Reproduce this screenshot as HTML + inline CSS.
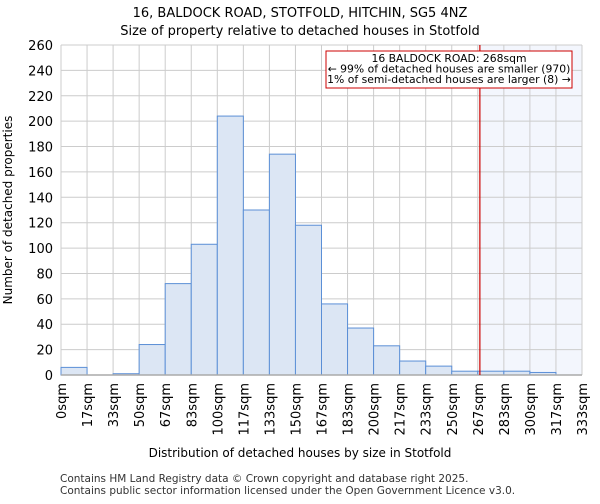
<!DOCTYPE html>
<html><head><meta charset="utf-8"><style>
body{margin:0;background:#fff;font-family:"DejaVu Sans","Liberation Sans",sans-serif;}
</style></head><body>
<svg width="600" height="500" xmlns="http://www.w3.org/2000/svg" id="chart" font-family="DejaVu Sans, Liberation Sans, sans-serif">
<text x="300" y="17" text-anchor="middle" font-size="13">16, BALDOCK ROAD, STOTFOLD, HITCHIN, SG5 4NZ</text>
<text x="300" y="35" text-anchor="middle" font-size="13">Size of property relative to detached houses in Stotfold</text>
<g id="plot"></g>
<text x="300" y="457" text-anchor="middle" font-size="12">Distribution of detached houses by size in Stotfold</text>
<text transform="translate(12,210) rotate(-90)" text-anchor="middle" font-size="12">Number of detached properties</text>
<text x="60" y="482" font-size="10.5" fill="#333">Contains HM Land Registry data © Crown copyright and database right 2025.</text>
<text x="60" y="494" font-size="10.5" fill="#333">Contains public sector information licensed under the Open Government Licence v3.0.</text>
</svg>
<script>
const categories=["0sqm","17sqm","33sqm","50sqm","67sqm","83sqm","100sqm","117sqm","133sqm","150sqm","167sqm","183sqm","200sqm","217sqm","233sqm","250sqm","267sqm","283sqm","300sqm","317sqm","333sqm"];
const counts=[6,0,1,24,72,103,204,130,174,118,56,37,23,11,7,3,3,3,2,0];
const yTicks=[0,20,40,60,80,100,120,140,160,180,200,220,240,260];
const binStart=0, binWidth=16.667;
const markerValue=268;
const NS="http://www.w3.org/2000/svg";
const L=61,R=582,T=45,B=375,yMax=260;
const nb=counts.length;
const xs=v=>L+(v-binStart)/(binWidth*nb)*(R-L);
const xi=i=>L+i*(R-L)/nb;
const ys=v=>B-v/yMax*(B-T);
const g=document.getElementById('plot');
function mk(t,a){const e=document.createElementNS(NS,t);for(const k in a)e.setAttribute(k,a[k]);g.appendChild(e);return e;}
const mx=xs(markerValue);
const sh=mk('rect',{x:mx,y:T,width:R-mx,height:B-T,fill:'#f3f6fd'});


yTicks.forEach(v=>{
 const l=mk('line',{x1:L,x2:R,y1:ys(v),y2:ys(v),stroke:'#cccccc','stroke-width':1});
 
 
 const t=mk('text',{x:L-8,y:ys(v)+5,'text-anchor':'end','font-size':13});
 t.textContent=v;
 
 
});
categories.forEach((c,i)=>{
 const x=xi(i);
 const l=mk('line',{x1:x,x2:x,y1:T,y2:B,stroke:'#cccccc','stroke-width':1});
 
 
 const t=mk('text',{transform:`translate(${x+5},${B+8}) rotate(-90)`,'text-anchor':'end','font-size':13});
 t.textContent=c;
 
 
});
counts.forEach((v,i)=>{
 if(v<=0)return;
 const r=mk('rect',{x:xi(i),y:ys(v),width:xi(i+1)-xi(i),height:B-ys(v),fill:'#dce6f4',stroke:'#5b8fd6','stroke-width':1});
 
 
});
const ax=mk('line',{x1:L,x2:R,y1:B,y2:B,stroke:'#aaaaaa','stroke-width':1.5});


const ml=mk('line',{x1:mx,x2:mx,y1:T,y2:B,stroke:'#cc0000','stroke-width':1.2});


const box=mk('rect',{x:326,y:51,width:246,height:37,fill:'#fff',stroke:'#cc0000','stroke-width':1});


["16 BALDOCK ROAD: 268sqm","← 99% of detached houses are smaller (970)","1% of semi-detached houses are larger (8) →"].forEach((s,i)=>{
 const t=mk('text',{x:449,y:62+i*10.5,'text-anchor':'middle','font-size':10.8});
 t.textContent=s;
 
 
});
</script>
</body></html>
